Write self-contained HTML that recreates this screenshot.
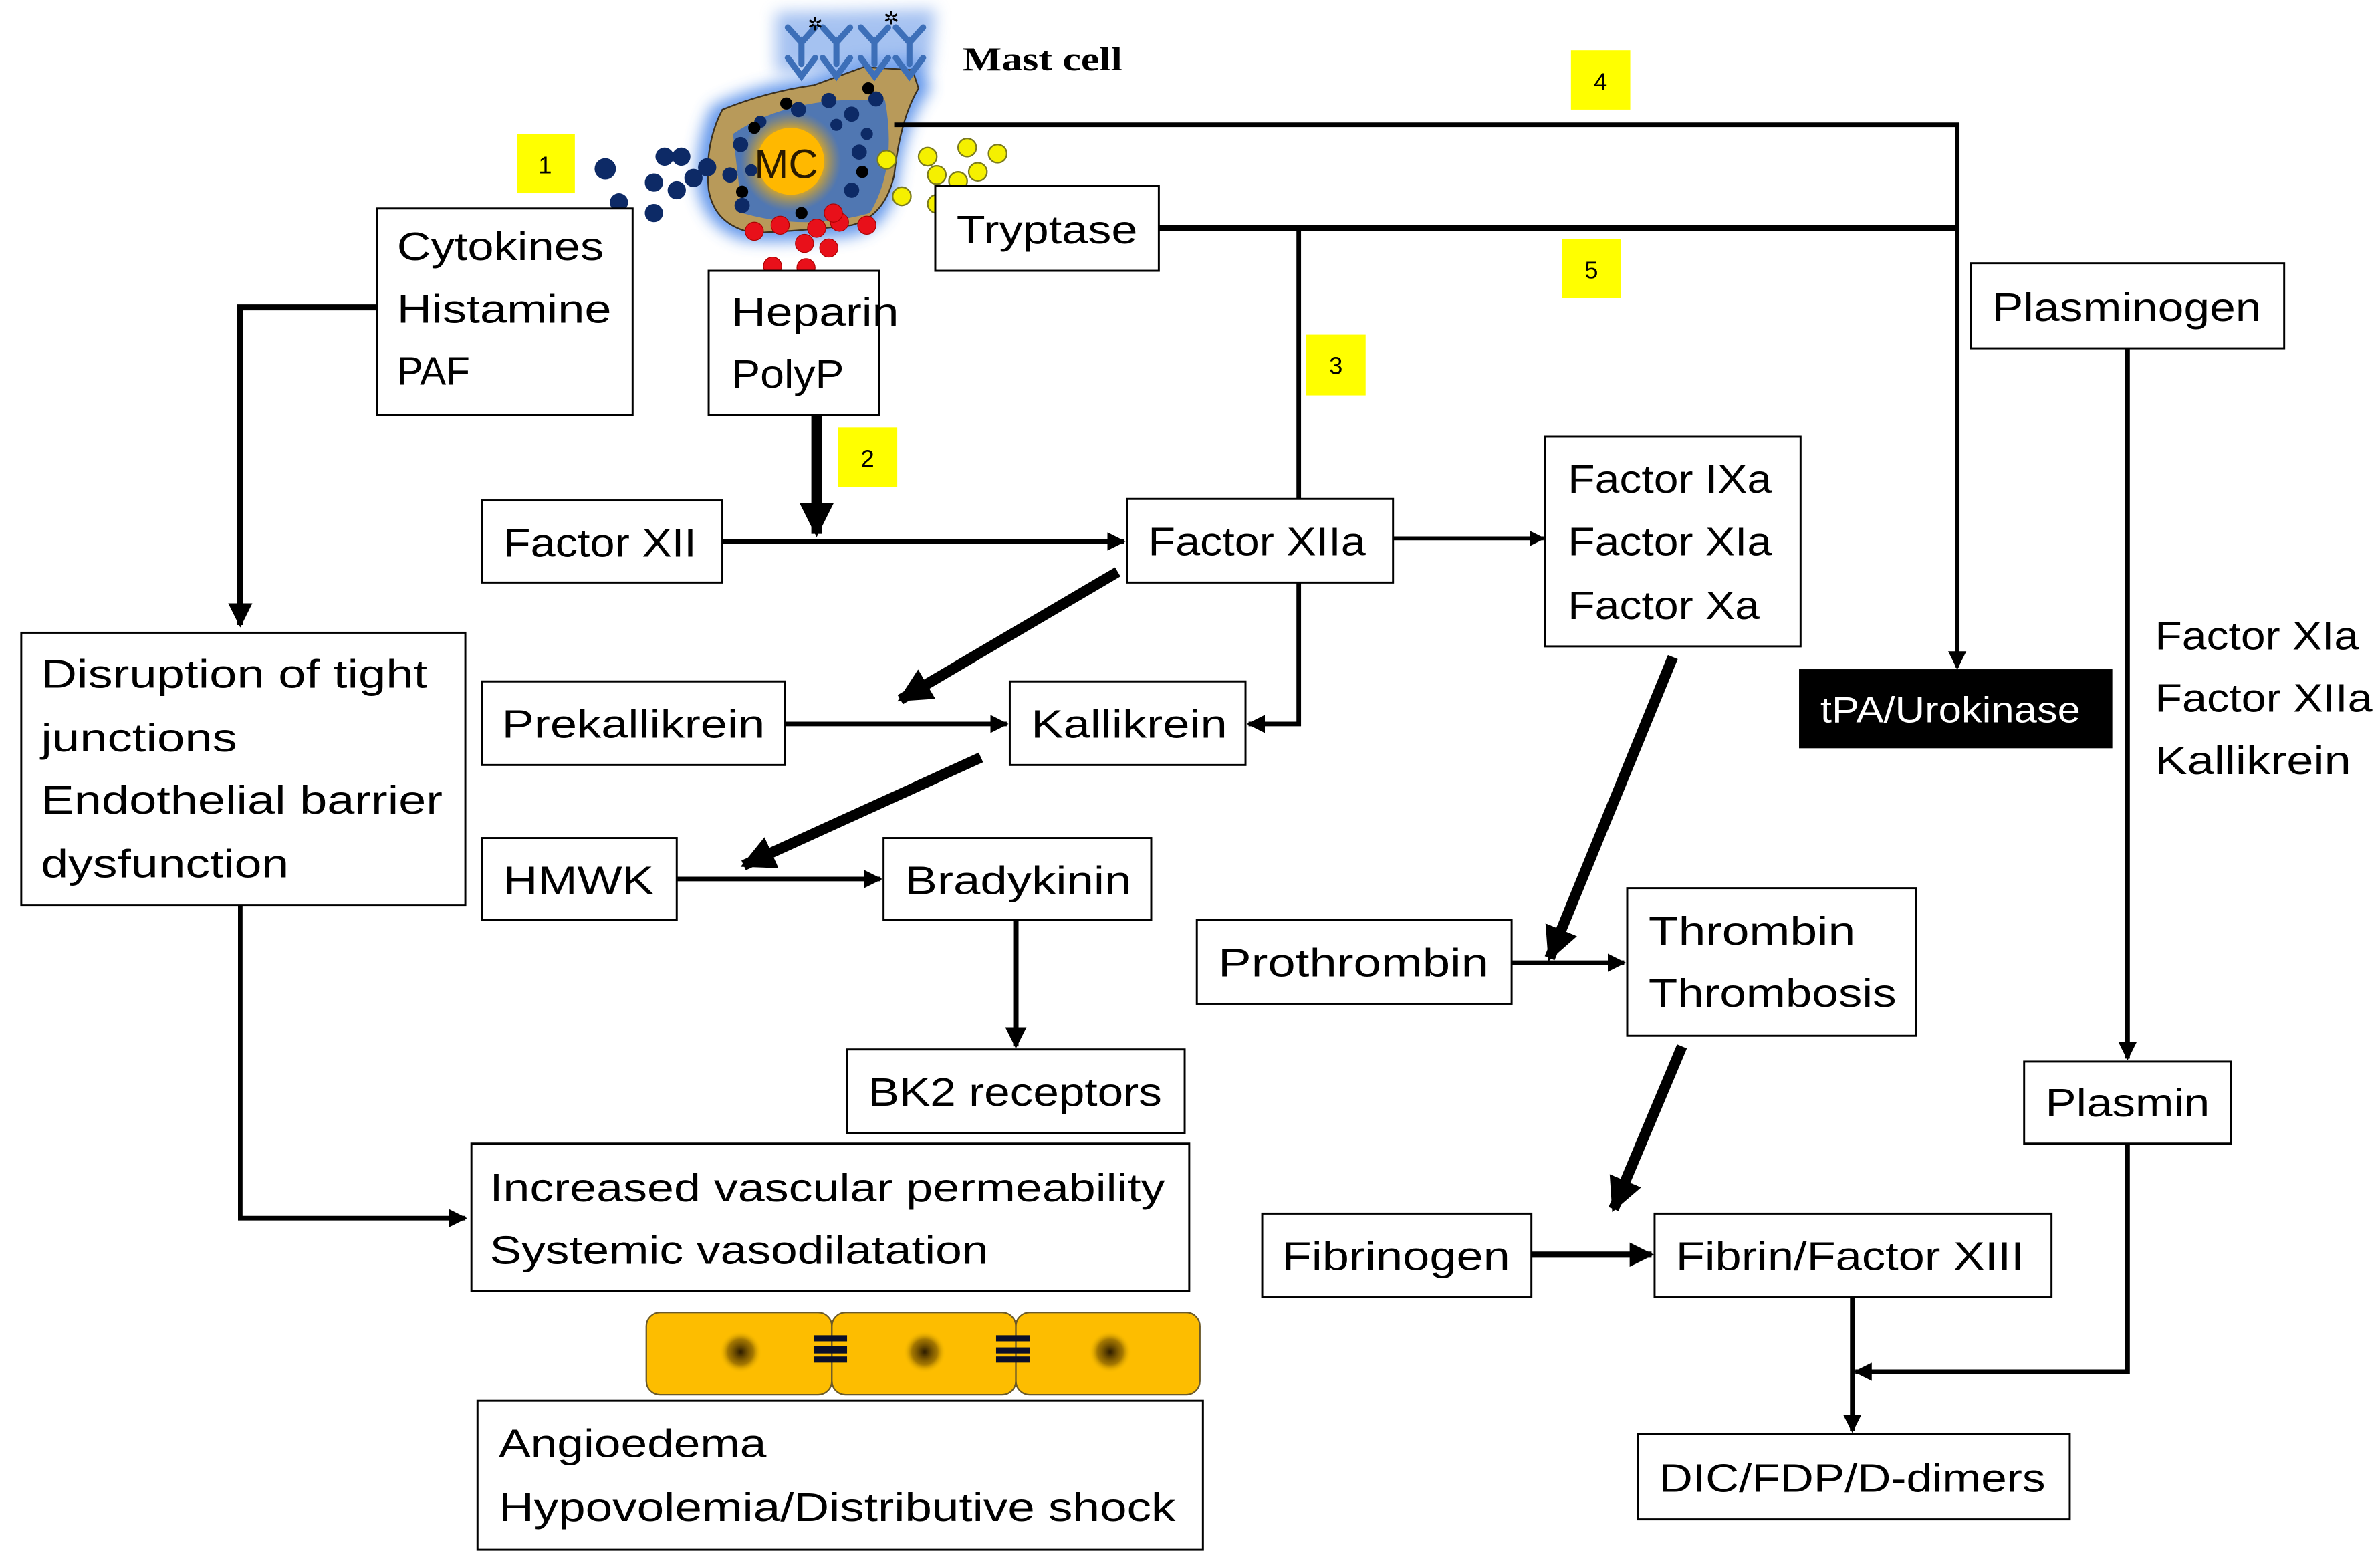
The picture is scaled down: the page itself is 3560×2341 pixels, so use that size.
<!DOCTYPE html>
<html><head><meta charset="utf-8"><style>
html,body{margin:0;padding:0;background:#fff;}
svg{display:block;}
text{font-family:"Liberation Sans",sans-serif;font-size:26px;fill:#000;}
.b{fill:#fff;stroke:#000;stroke-width:1.3;}
.n{font-size:16px;}
</style></head><body>
<svg width="3560" height="2341" viewBox="0 0 1565 1029" xmlns="http://www.w3.org/2000/svg">
<defs>
<marker id="a" viewBox="0 0 10 10" refX="9" refY="5" markerWidth="4" markerHeight="4" orient="auto"><path d="M0,0L10,5L0,10z" fill="#000"/></marker>
<marker id="as" viewBox="0 0 10 10" refX="9" refY="5" markerWidth="3.2" markerHeight="3.2" orient="auto"><path d="M0,0L10,5L0,10z" fill="#000"/></marker>
<radialGradient id="nuc"><stop offset="0.55" stop-color="#ffb800"/><stop offset="1" stop-color="#c79a3a" stop-opacity="0"/></radialGradient>
<radialGradient id="cn"><stop offset="0" stop-color="#2a1a00"/><stop offset="0.6" stop-color="#6b4a00" stop-opacity="0.6"/><stop offset="1" stop-color="#f5bd00" stop-opacity="0"/></radialGradient>
<filter id="glow" x="-30%" y="-30%" width="160%" height="160%"><feGaussianBlur stdDeviation="5"/></filter>
</defs>

<!-- mast cell -->
<path d="M468,70 Q495,56 530,52 L565,40 L605,38 L612,58 Q595,80 590,120 Q585,150 560,155 Q520,160 490,158 Q462,150 458,120 Q458,90 468,70 Z" fill="#4a86e8" filter="url(#glow)" opacity="0.85"/>
<path d="M510,8 L615,6 L612,45 L510,48Z" fill="#6a9ae8" filter="url(#glow)" opacity="0.6"/>
<path d="M475,72 Q505,60 535,56 L568,44 L600,46 L604,58 Q592,78 588,115 Q582,142 560,148 Q525,152 495,153 Q470,148 466,125 Q463,95 475,72 Z" fill="#b89a5a" stroke="#3a3020" stroke-width="1"/>
<path d="M482,88 Q520,62 582,66 Q590,110 572,140 Q530,152 488,140 Z" fill="#2e6bd0" opacity="0.75"/>
<circle cx="520" cy="106" r="33" fill="url(#nuc)"/>
<circle cx="520" cy="106" r="22" fill="#ffb800"/>
<text x="496" y="117" style="font-size:27px;fill:#2a1a00">MC</text>
<g fill="#0d2a66">
<circle cx="487" cy="95" r="5"/><circle cx="480" cy="115" r="5"/><circle cx="488" cy="135" r="5"/><circle cx="500" cy="80" r="4"/><circle cx="525" cy="72" r="5"/><circle cx="545" cy="66" r="5"/><circle cx="560" cy="75" r="5"/><circle cx="565" cy="100" r="5"/><circle cx="560" cy="125" r="5"/><circle cx="576" cy="65" r="5"/><circle cx="550" cy="82" r="4"/><circle cx="494" cy="112" r="4"/><circle cx="570" cy="88" r="4"/>
</g>
<g fill="#000"><circle cx="517" cy="68" r="4"/><circle cx="496" cy="84" r="4"/><circle cx="488" cy="126" r="4"/><circle cx="567" cy="113" r="4"/><circle cx="571" cy="58" r="4"/><circle cx="527" cy="140" r="4"/></g>
<g fill="#0d2a66"><circle cx="398" cy="111" r="7"/><circle cx="407" cy="133" r="6"/><circle cx="430" cy="140" r="6"/><circle cx="437" cy="103" r="6"/><circle cx="448" cy="103" r="6"/><circle cx="430" cy="120" r="6"/><circle cx="445" cy="125" r="6"/><circle cx="456" cy="117" r="6"/><circle cx="465" cy="110" r="6"/></g>
<g fill="#e8101a" stroke="#a00" stroke-width="0.5"><circle cx="496" cy="152" r="6"/><circle cx="513" cy="148" r="6"/><circle cx="529" cy="160" r="6"/><circle cx="545" cy="163" r="6"/><circle cx="537" cy="150" r="6"/><circle cx="552" cy="146" r="6"/><circle cx="570" cy="148" r="6"/><circle cx="530" cy="176" r="6"/><circle cx="508" cy="175" r="6"/><circle cx="548" cy="140" r="6"/></g>
<g fill="#f5f000" stroke="#7a7a20" stroke-width="1"><circle cx="583" cy="105" r="6"/><circle cx="610" cy="103" r="6"/><circle cx="616" cy="115" r="6"/><circle cx="630" cy="119" r="6"/><circle cx="643" cy="113" r="6"/><circle cx="656" cy="101" r="6"/><circle cx="636" cy="97" r="6"/><circle cx="593" cy="129" r="6"/><circle cx="616" cy="134" r="6"/></g>
<!-- receptors -->
<g stroke="#3d6fb8" stroke-width="4" fill="none" stroke-linecap="round">
<path d="M527,42V26M518,18L527,28L536,18"/><path d="M550,42V26M541,18L550,28L559,18"/><path d="M575,42V26M566,18L575,28L584,18"/><path d="M598,42V26M589,18L598,28L607,18"/>
<path d="M518,38L527,50L536,38M541,38L550,50L559,38M566,38L575,50L584,38M589,38L598,50L607,38"/>
</g>
<text x="531" y="20" style="font-size:12px">✲</text><text x="581" y="16" style="font-size:12px">✲</text>
<text x="633" y="46" style="font-family:'Liberation Serif',serif;font-weight:bold;font-size:22px" textLength="105" lengthAdjust="spacingAndGlyphs">Mast cell</text>

<!-- yellow numbers -->
<g fill="#ffff00"><rect x="340" y="88" width="38" height="39"/><rect x="551" y="281" width="39" height="39"/><rect x="859" y="220" width="39" height="40"/><rect x="1033" y="33" width="39" height="39"/><rect x="1027" y="157" width="39" height="39"/></g>
<text class="n" x="354" y="114">1</text><text class="n" x="566" y="307">2</text><text class="n" x="874" y="246">3</text><text class="n" x="1048" y="59">4</text><text class="n" x="1042" y="183">5</text>

<!-- boxes -->
<rect class="b" x="248" y="137" width="168" height="136"/>
<rect class="b" x="466" y="178" width="112" height="95"/>
<rect class="b" x="615" y="122" width="147" height="56"/>
<rect class="b" x="317" y="329" width="158" height="54"/>
<rect class="b" x="741" y="328" width="175" height="55"/>
<rect class="b" x="1016" y="287" width="168" height="138"/>
<rect class="b" x="317" y="448" width="199" height="55"/>
<rect class="b" x="664" y="448" width="155" height="55"/>
<rect class="b" x="14" y="416" width="292" height="179"/>
<rect class="b" x="317" y="551" width="128" height="54"/>
<rect class="b" x="581" y="551" width="176" height="54"/>
<rect class="b" x="557" y="690" width="222" height="55"/>
<rect class="b" x="310" y="752" width="472" height="97"/>
<rect class="b" x="314" y="921" width="477" height="98"/>
<rect class="b" x="787" y="605" width="207" height="55"/>
<rect class="b" x="1070" y="584" width="190" height="97"/>
<rect class="b" x="830" y="798" width="177" height="55"/>
<rect class="b" x="1088" y="798" width="261" height="55"/>
<rect class="b" x="1077" y="943" width="284" height="56"/>
<rect class="b" x="1296" y="173" width="206" height="56"/>
<rect class="b" x="1331" y="698" width="136" height="54"/>
<rect x="1183" y="440" width="206" height="52" fill="#000"/>

<!-- endothelium -->
<g stroke="#6b5a2a" stroke-width="1" fill="#fdbd00">
<rect x="425" y="863" width="122" height="54" rx="9"/><rect x="547" y="863" width="121" height="54" rx="9"/><rect x="668" y="863" width="121" height="54" rx="9"/>
</g>
<circle cx="487" cy="889" r="14" fill="url(#cn)"/><circle cx="608" cy="889" r="14" fill="url(#cn)"/><circle cx="730" cy="889" r="14" fill="url(#cn)"/>
<g fill="#0a0f2a"><rect x="535" y="878" width="22" height="4"/><rect x="535" y="885" width="22" height="5"/><rect x="535" y="892" width="22" height="4"/>
<rect x="655" y="878" width="22" height="4"/><rect x="655" y="886" width="22" height="4"/><rect x="655" y="892" width="22" height="4"/></g>

<!-- texts -->
<text x="261" y="171" textLength="136" lengthAdjust="spacingAndGlyphs">Cytokines</text>
<text x="261" y="212" textLength="141" lengthAdjust="spacingAndGlyphs">Histamine</text>
<text x="261" y="253" textLength="48" lengthAdjust="spacingAndGlyphs">PAF</text>
<text x="481" y="214" textLength="110" lengthAdjust="spacingAndGlyphs">Heparin</text>
<text x="481" y="255" textLength="74" lengthAdjust="spacingAndGlyphs">PolyP</text>
<text x="629" y="160" textLength="119" lengthAdjust="spacingAndGlyphs">Tryptase</text>
<text x="331" y="366" textLength="127" lengthAdjust="spacingAndGlyphs">Factor XII</text>
<text x="755" y="365" textLength="143" lengthAdjust="spacingAndGlyphs">Factor XIIa</text>
<text x="1031" y="324" textLength="134" lengthAdjust="spacingAndGlyphs">Factor IXa</text>
<text x="1031" y="365" textLength="134" lengthAdjust="spacingAndGlyphs">Factor XIa</text>
<text x="1031" y="407" textLength="126" lengthAdjust="spacingAndGlyphs">Factor Xa</text>
<text x="330" y="485" textLength="173" lengthAdjust="spacingAndGlyphs">Prekallikrein</text>
<text x="678" y="485" textLength="129" lengthAdjust="spacingAndGlyphs">Kallikrein</text>
<text x="27" y="452" textLength="254" lengthAdjust="spacingAndGlyphs">Disruption of tight</text>
<text x="27" y="494" textLength="129" lengthAdjust="spacingAndGlyphs">junctions</text>
<text x="27" y="535" textLength="264" lengthAdjust="spacingAndGlyphs">Endothelial barrier</text>
<text x="27" y="577" textLength="163" lengthAdjust="spacingAndGlyphs">dysfunction</text>
<text x="331" y="588" textLength="99" lengthAdjust="spacingAndGlyphs">HMWK</text>
<text x="595" y="588" textLength="149" lengthAdjust="spacingAndGlyphs">Bradykinin</text>
<text x="571" y="727" textLength="193" lengthAdjust="spacingAndGlyphs">BK2 receptors</text>
<text x="322" y="790" textLength="444" lengthAdjust="spacingAndGlyphs">Increased vascular permeability</text>
<text x="322" y="831" textLength="328" lengthAdjust="spacingAndGlyphs">Systemic vasodilatation</text>
<text x="328" y="958" textLength="176" lengthAdjust="spacingAndGlyphs">Angioedema</text>
<text x="328" y="1000" textLength="445" lengthAdjust="spacingAndGlyphs">Hypovolemia/Distributive shock</text>
<text x="801" y="642" textLength="178" lengthAdjust="spacingAndGlyphs">Prothrombin</text>
<text x="1084" y="621" textLength="136" lengthAdjust="spacingAndGlyphs">Thrombin</text>
<text x="1084" y="662" textLength="163" lengthAdjust="spacingAndGlyphs">Thrombosis</text>
<text x="843" y="835" textLength="150" lengthAdjust="spacingAndGlyphs">Fibrinogen</text>
<text x="1102" y="835" textLength="229" lengthAdjust="spacingAndGlyphs">Fibrin/Factor XIII</text>
<text x="1091" y="981" textLength="254" lengthAdjust="spacingAndGlyphs">DIC/FDP/D-dimers</text>
<text x="1310" y="211" textLength="177" lengthAdjust="spacingAndGlyphs">Plasminogen</text>
<text x="1345" y="734" textLength="108" lengthAdjust="spacingAndGlyphs">Plasmin</text>
<text x="1197" y="475" textLength="171" lengthAdjust="spacingAndGlyphs" style="fill:#fff;font-size:24px">tPA/Urokinase</text>
<text x="1417" y="427" textLength="134" lengthAdjust="spacingAndGlyphs">Factor XIa</text>
<text x="1417" y="468" textLength="143" lengthAdjust="spacingAndGlyphs">Factor XIIa</text>
<text x="1417" y="509" textLength="129" lengthAdjust="spacingAndGlyphs">Kallikrein</text>

<!-- connectors -->
<g fill="none" stroke="#000">
<path d="M248,202H158V411" stroke-width="4" marker-end="url(#a)"/>
<path d="M158,595V801H306" stroke-width="3" marker-end="url(#a)"/>
<path d="M537,273V351" stroke-width="7" marker-end="url(#as)"/>
<path d="M475,356H739" stroke-width="3" marker-end="url(#a)"/>
<path d="M916,354H1015" stroke-width="2.5" marker-end="url(#a)"/>
<path d="M762,150H1287" stroke-width="4"/>
<path d="M854,150V328" stroke-width="3"/>
<path d="M854,383V476H821" stroke-width="3" marker-end="url(#a)"/>
<path d="M588,82H1287V439" stroke-width="3" marker-end="url(#a)"/>
<path d="M735,376L592,460" stroke-width="7" marker-end="url(#as)"/>
<path d="M516,476H662" stroke-width="3" marker-end="url(#a)"/>
<path d="M645,498L489,569" stroke-width="7" marker-end="url(#as)"/>
<path d="M445,578H579" stroke-width="3" marker-end="url(#a)"/>
<path d="M668,605V688" stroke-width="3.5" marker-end="url(#a)"/>
<path d="M1100,432L1019,630" stroke-width="7" marker-end="url(#as)"/>
<path d="M994,633H1068" stroke-width="3" marker-end="url(#a)"/>
<path d="M1106,688L1061,795" stroke-width="7" marker-end="url(#as)"/>
<path d="M1007,825H1086" stroke-width="4" marker-end="url(#a)"/>
<path d="M1218,853V941" stroke-width="3" marker-end="url(#a)"/>
<path d="M1399,229V696" stroke-width="3" marker-end="url(#a)"/>
<path d="M1399,752V902H1220" stroke-width="3" marker-end="url(#a)"/>
</g>
</svg>
</body></html>
